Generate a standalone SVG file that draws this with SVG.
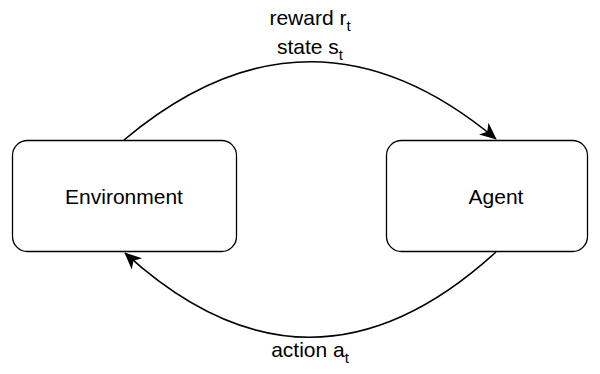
<svg xmlns="http://www.w3.org/2000/svg" width="600" height="374" viewBox="0 0 600 374">
  <defs>
    <style>
      .box { fill: #ffffff; stroke: #000000; stroke-width: 1.3; }
      .lbl { font-family: "Liberation Sans", Arial, Helvetica, sans-serif; font-size: 21px; fill: #000000; }
      .sub { font-size: 15px; }
      .edge { fill: none; stroke: #000000; stroke-width: 1.6; }
    </style>
    <marker id="arrow" viewBox="0 0 10 10" refX="9.5" refY="5" markerWidth="17" markerHeight="17" markerUnits="userSpaceOnUse" orient="auto">
      <path d="M0,0.5 L10,5 L0,9.5 L2.8,5 Z" fill="#000000"/>
    </marker>
  </defs>

  <rect width="600" height="374" fill="#ffffff"/>

  <g id="connectors">
    <path class="edge" d="M124,140 Q310,-16 496,139" marker-end="url(#arrow)"/>
    <path class="edge" d="M496,252 Q310,422 125,253" marker-end="url(#arrow)"/>
    <text class="lbl" x="310" y="25" text-anchor="middle">reward r<tspan class="sub" dy="6">t</tspan></text>
    <text class="lbl" x="310" y="54" text-anchor="middle">state s<tspan class="sub" dy="6">t</tspan></text>
    <text class="lbl" x="310" y="357" text-anchor="middle">action a<tspan class="sub" dy="6">t</tspan></text>
  </g>

  <g id="environment">
    <rect class="box" x="12.5" y="140.5" width="224" height="111" rx="15" ry="15"/>
    <text class="lbl" x="124" y="204" text-anchor="middle">Environment</text>
  </g>

  <g id="agent">
    <rect class="box" x="386.5" y="140.5" width="201" height="111" rx="15" ry="15"/>
    <text class="lbl" x="496" y="204" text-anchor="middle">Agent</text>
  </g>
</svg>
